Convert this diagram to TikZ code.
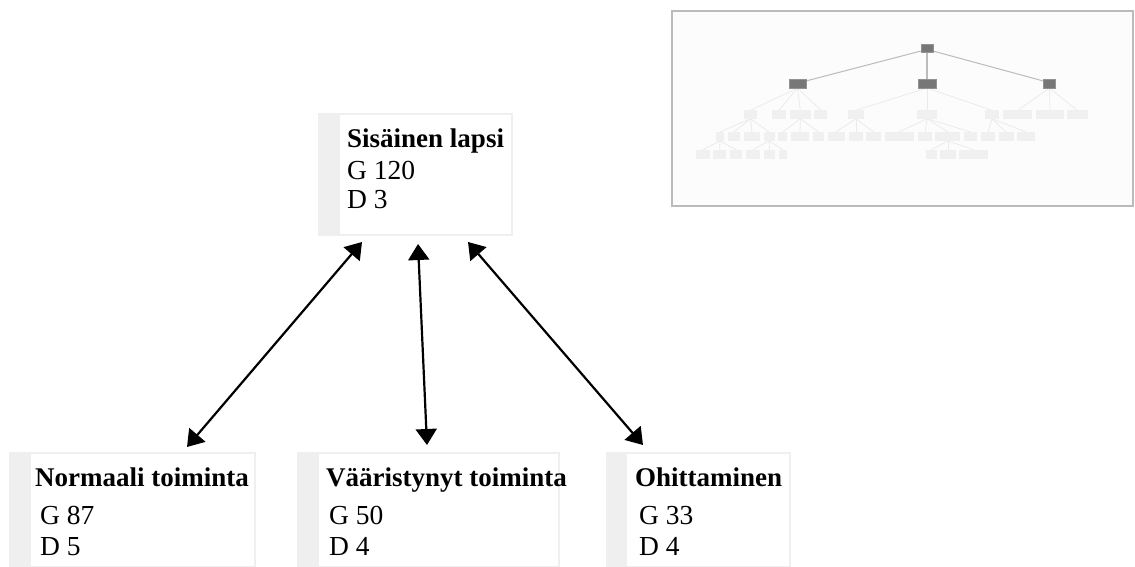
\documentclass[tikz,border=0pt]{standalone}
\usepackage{fontspec}
\setmainfont{Liberation Serif}
\usetikzlibrary{arrows.meta}
\definecolor{boxgray}{HTML}{EFEFEF}
\definecolor{framegray}{HTML}{BBBBBB}
\definecolor{panelbg}{HTML}{FCFCFC}
\definecolor{darkmini}{HTML}{777777}
\definecolor{litemini}{HTML}{F0F0F0}
\definecolor{liteedge}{HTML}{EBEBEB}
\tikzset{
  box/.style={draw=boxgray, line width=2pt, fill=white, anchor=north west, inner sep=0pt},
  strip/.style={fill=boxgray},
  txt/.style={anchor=base west, inner sep=0pt, font=\fontsize{27.5}{30}\selectfont},
  ttl/.style={txt, font=\fontsize{27}{30}\selectfont\bfseries},
  arr/.style={line width=2.2pt, {Triangle[length=16pt,width=21pt]}-{Triangle[length=16pt,width=21pt]}},
  dk/.style={fill=darkmini, draw=darkmini!80!white, line width=0.6pt},
  lt/.style={fill=litemini},
  dkedge/.style={draw=framegray, line width=1pt},
  ltedge/.style={draw=liteedge, line width=0.8pt}
}
\begin{document}
\begin{tikzpicture}[x=1pt,y=-1pt]
\useasboundingbox (0,0) rectangle (1135,567);

% ---------- main boxes ----------
\node[box, minimum width=193pt, minimum height=121pt] (top) at (318,113) {};
\fill[strip] (top.north west) rectangle ([xshift=22pt]top.south west);
\node[ttl] (toptitle) at (347,148) {Sisäinen lapsi};
\node[txt] (topg) at (347,179) {G 120};
\node[txt] (topd) at (347,208) {D 3};

\node[box, minimum width=245pt, minimum height=114pt] (n1) at (9,452) {};
\fill[strip] (n1.north west) rectangle ([xshift=22pt]n1.south west);
\node[ttl] (n1title) at (35,486) {Normaali toiminta};
\node[txt] (n1g) at (40,524) {G 87};
\node[txt] (n1d) at (40,555) {D 5};

\node[box, minimum width=261pt, minimum height=114pt] (n2) at (297,452) {};
\fill[strip] (n2.north west) rectangle ([xshift=22pt]n2.south west);
\node[ttl] (n2title) at (326,486) {Vääristynyt toiminta};
\node[txt] (n2g) at (329,524) {G 50};
\node[txt] (n2d) at (329,555) {D 4};

\node[box, minimum width=183pt, minimum height=114pt] (n3) at (606,452) {};
\fill[strip] (n3.north west) rectangle ([xshift=21pt]n3.south west);
\node[ttl] (n3title) at (635,486) {Ohittaminen};
\node[txt] (n3g) at (639,524) {G 33};
\node[txt] (n3d) at (639,555) {D 4};

% ---------- connectors ----------
\draw[arr] ([shift={(44,6)}]top.south west) -- ([shift={(178,-5)}]n1.north west);
\draw[arr] ([shift={(100,8)}]top.south west) -- ([shift={(130,-7)}]n2.north west);
\draw[arr] ([shift={(150,6)}]top.south west) -- ([shift={(37,-7)}]n3.north west);

% ---------- minimap ----------
\draw[draw=framegray, line width=2.5pt, fill=panelbg] (672,11) rectangle (1133,206);

% light edges level2 -> level3
\foreach \px/\cx in {797.5/750.5, 797.5/779, 797.5/800.3, 797.5/820.8,
                     927/856, 927/927, 927/992,
                     1049.5/1018, 1049.5/1050, 1049.5/1077}
  \draw[ltedge] (\px,88) -- (\cx,110.3);
% level3 -> level4
\foreach \px/\cx in {750.5/720, 750.5/734, 750.5/752, 750.5/769,
                     800.3/783, 800.3/800, 800.3/818.5,
                     856/836, 856/856, 856/873.7,
                     927/899, 927/925, 927/948, 927/970.7,
                     992/988, 992/1006, 992/1026}
  \draw[ltedge] (\px,118.7) -- (\cx,132);
% level4 -> level5
\foreach \px/\cx in {720/703, 720/719.7, 720/736,
                     769/753, 769/769.5, 769/783,
                     948/931, 948/948, 948/973.6}
  \draw[ltedge] (\px,141) -- (\cx,149.7);

% level3 boxes
\foreach \a/\b in {744/757.3, 771.7/786, 790/810.7, 814.3/827.3, 848.3/864,
                   917/937, 985/999, 1003.3/1032.3, 1035.7/1063.7, 1067/1087.7}
  \fill[lt] (\a,110.3) rectangle (\b,118.7);
% level4 boxes
\foreach \a/\b in {716/723.7, 728/740.3, 744/759.7, 764/774.7, 778.3/787.3,
                   791/809.3, 813/824, 827.7/845, 849/862.7, 866.3/881,
                   885/913.7, 918/932, 935.3/960.3, 964/977.3, 981.3/995,
                   998.7/1013.7, 1017/1035.3}
  \fill[lt] (\a,132) rectangle (\b,141);
% level5 boxes
\foreach \a/\b in {695.7/710.3, 713.3/726, 730/742, 745.7/760, 763.7/775.3,
                   778.7/787, 926/936.7, 940/955.7, 959/988.3}
  \fill[lt] (\a,149.7) rectangle (\b,159);

% dark edges
\draw[dkedge] (921,51) -- (806,81);
\draw[dkedge, line width=2pt] (927,52.7) -- (927,79.7);
\draw[dkedge] (933,51) -- (1043.3,81);
% dark boxes
\filldraw[dk] (921,44.3) rectangle (933.3,52.7);
\filldraw[dk] (789.3,79.7) rectangle (806,88);
\filldraw[dk] (918,79.7) rectangle (936,88);
\filldraw[dk] (1043.3,79.7) rectangle (1055.7,88);
\end{tikzpicture}
\end{document}
